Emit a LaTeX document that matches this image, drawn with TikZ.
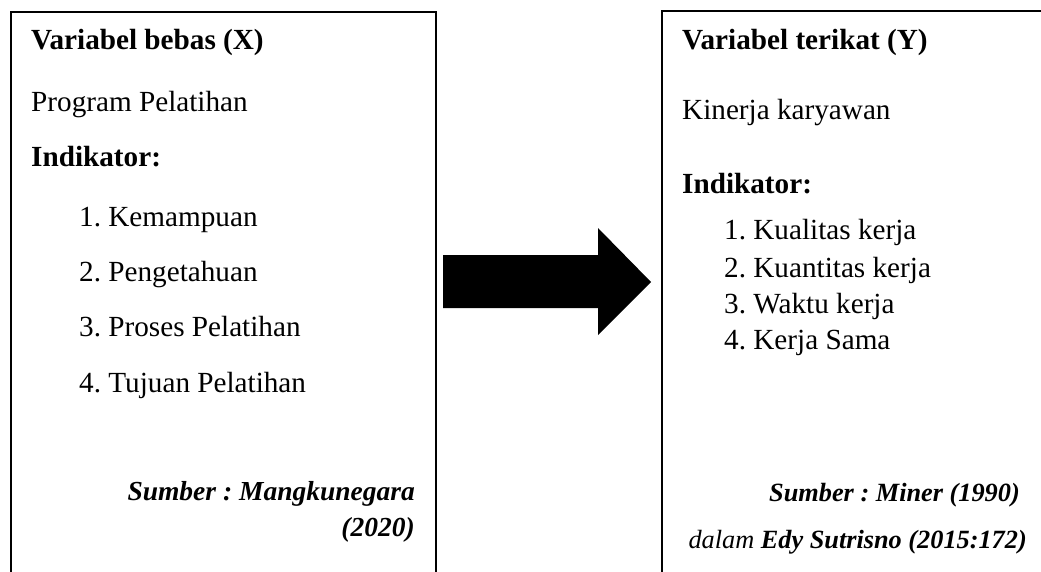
\documentclass[tikz,border=0pt]{standalone}
\usepackage{fontspec}
\setmainfont{Liberation Serif}
\frenchspacing
\begin{document}
\begin{tikzpicture}[x=1pt,y=-1pt,
  txt/.style={anchor=base west, inner sep=0pt, font=\fontsize{29.2}{35}\selectfont},
  txtb/.style={txt, font=\fontsize{29.2}{35}\selectfont\bfseries},
  src/.style={anchor=base east, inner sep=0pt, font=\fontsize{27.5}{33}\selectfont\bfseries\itshape},
  srcs/.style={src, font=\fontsize{26.3}{32}\selectfont\bfseries\itshape},
  boxline/.style={line width=1.3pt, black}]
\useasboundingbox (0,0) rectangle (1041,572);
\fill[white] (0,0) rectangle (1041,572);
% left box
\draw[boxline] (11,572) -- (11,12) -- (436,12) -- (436,572);
% right box
\draw[boxline] (662,572) -- (662,11) -- (1041,11);
% block arrow
\fill[black] (443,255) -- (598,255) -- (598,228) -- (651,282) -- (598,335) -- (598,308) -- (443,308) -- cycle;
% left texts
\node[txtb] (lt) at (31,50) {Variabel bebas (X)};
\node[txt] (lv) at (31,112) {Program Pelatihan};
\node[txtb] (li) at (31,167) {Indikator:};
\node[txt] (l1) at (79,226) {1. Kemampuan};
\node[txt] (l2) at (79,281) {2. Pengetahuan};
\node[txt] (l3) at (79,336) {3. Proses Pelatihan};
\node[txt] (l4) at (79,392) {4. Tujuan Pelatihan};
\node[src] (ls1) at (415,500) {Sumber : Mangkunegara};
\node[src] (ls2) at (415,536) {(2020)};
% right texts
\node[txtb] (rt) at (682,50) {Variabel terikat (Y)};
\node[txt] (rv) at (682,120) {Kinerja karyawan};
\node[txtb] (ri) at (682,194) {Indikator:};
\node[txt] (r1) at (724,240) {1. Kualitas kerja};
\node[txt] (r2) at (724,277) {2. Kuantitas kerja};
\node[txt] (r3) at (724,313) {3. Waktu kerja};
\node[txt] (r4) at (724,349) {4. Kerja Sama};
\node[srcs] (rs1) at (1020,501) {Sumber : Miner (1990)};
\node[srcs] (rs2) at (1027,548) {\textmd{dalam} Edy Sutrisno (2015:172)};
\end{tikzpicture}
\end{document}
